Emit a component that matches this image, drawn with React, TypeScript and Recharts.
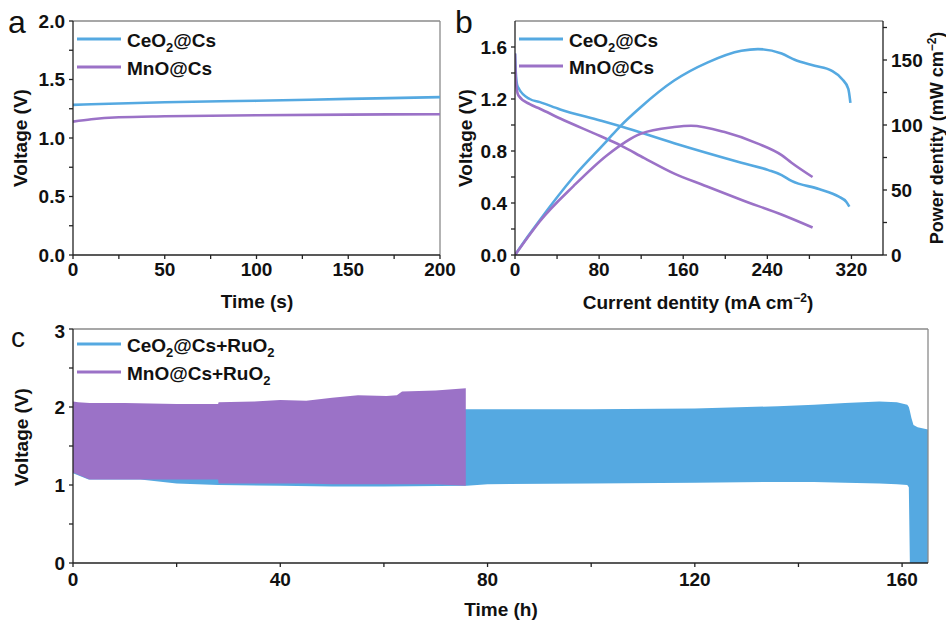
import { LineChart, ComposedChart, Line, Area, XAxis, YAxis, ReferenceLine } from 'recharts'

const BLUE = '#55a9e1'
const PURPLE = '#9b72c7'
const AXIS = '#222'
const FRAME = '#8a8a8a'
const FONT = "'Liberation Sans', Arial, sans-serif"

// (a) open-circuit voltage vs time
const timeA = [0, 10, 25, 50, 100, 150, 200]
const ceoA = [1.283, 1.288, 1.295, 1.306, 1.318, 1.334, 1.349]
const mnoA = [1.14, 1.16, 1.177, 1.186, 1.195, 1.2, 1.203]
const xTicksA = [0, 25, 50, 75, 100, 125, 150, 175, 200]
const yTicksA = [0, 0.25, 0.5, 0.75, 1, 1.25, 1.5, 1.75, 2]

// (b) polarization (left axis) and power density (right axis)
const ceVx = [0, 0.8, 2, 4, 14, 23.7, 43, 81, 100.4, 151.4, 215.3, 241, 253.6, 263, 289, 308, 315, 318]
const ceVy = [1.55, 1.4, 1.31, 1.275, 1.2, 1.176, 1.12, 1.035, 0.99, 0.86, 0.71, 0.653, 0.615, 0.57, 0.508, 0.449, 0.41, 0.372]
const mnVx = [0, 0.8, 2, 3.3, 14, 23.7, 43, 81, 100, 123, 151, 180, 215, 254, 283]
const mnVy = [1.55, 1.35, 1.26, 1.227, 1.16, 1.125, 1.05, 0.915, 0.845, 0.745, 0.628, 0.535, 0.425, 0.309, 0.211]
const cePx = [0, 12, 23.7, 55.6, 87.6, 100, 119.5, 151.4, 183.4, 215.3, 231, 253.6, 266, 285, 301, 311, 317, 319]
const cePy = [0, 14, 27, 60, 88, 99, 113.7, 134.2, 148.2, 157.1, 158.4, 155, 150.2, 145.6, 141.8, 135.4, 127.8, 117]
const mnPx = [0, 12, 23.7, 55.6, 87.6, 119.5, 151.4, 167.4, 199.4, 231, 253.6, 263, 283]
const mnPy = [0, 13.5, 26, 53, 76.8, 93.3, 98.4, 99.4, 94.6, 85.7, 76.8, 71, 60]
const xTicksB = [0, 40, 80, 120, 160, 200, 240, 280, 320]
const yTicksB = [0, 0.2, 0.4, 0.6, 0.8, 1, 1.2, 1.4, 1.6]
const pTicksB = [0, 25, 50, 75, 100, 125, 150, 175]

// (c) cycling bands: lower / upper voltage envelope
const ceT = [0, 3, 13, 20, 28, 40, 50, 60, 76, 80, 100, 120, 136, 143, 149, 155.6, 159, 161, 161.3, 161.5, 161.8, 162.2, 163, 165]
const ceLo = [1.15, 1.07, 1.07, 1.02, 1.0, 0.99, 0.98, 0.98, 0.99, 1.01, 1.02, 1.03, 1.04, 1.04, 1.03, 1.02, 1.01, 1.0, 0.97, 0, 0, 0, 0, 0]
const ceHi = [2.0, 1.97, 1.97, 1.97, 1.97, 1.97, 1.97, 1.97, 1.97, 1.97, 1.97, 1.98, 2.01, 2.03, 2.05, 2.07, 2.06, 2.03, 2.0, 1.95, 1.86, 1.77, 1.74, 1.71]
const mnT = [0, 1, 3.2, 10, 20, 28, 28.1, 35, 40, 45, 50, 55, 60.5, 62.5, 63.5, 70, 75.8]
const mnLo = [1.16, 1.13, 1.07, 1.07, 1.07, 1.07, 1.02, 1.02, 1.02, 1.02, 1.01, 1.01, 1.01, 1.01, 1.01, 1.01, 0.99]
const mnHi = [2.07, 2.06, 2.05, 2.05, 2.04, 2.04, 2.06, 2.07, 2.09, 2.08, 2.12, 2.15, 2.14, 2.15, 2.2, 2.21, 2.24]
const xTicksC = [0, 20, 40, 60, 80, 100, 120, 140, 160]
const yTicksC = [0, 0.5, 1, 1.5, 2, 2.5, 3]

const dataA = timeA.map((t, i) => ({ t, ceo: ceoA[i], mno: mnoA[i] }))
const zip = (xs: number[], ys: number[]) => xs.map((x, i) => ({ x, y: ys[i] }))
const band = (ts: number[], lo: number[], hi: number[]) => ts.map((t, i) => ({ t, range: [lo[i], hi[i]] }))

const major = (step: number, digits: number) => (v: number) =>
  Math.abs(v / step - Math.round(v / step)) < 1e-6 ? v.toFixed(digits) : ''

const tickStyle = { fill: '#111', fontSize: 19, fontWeight: 'bold', fontFamily: FONT }
const axisProps = { stroke: AXIS, strokeWidth: 1.3, tickSize: 4, tick: tickStyle, allowDataOverflow: true }

function Title({ x, y, rot, size = 19, children }: any) {
  return (
    <text transform={`translate(${x},${y})${rot ? ' rotate(-90)' : ''}`} textAnchor="middle"
      fontFamily={FONT} fontWeight="bold" fontSize={size} fill="#111">{children}</text>
  )
}

function Key({ x, y, color, children }: any) {
  return (
    <g>
      <line x1={x} x2={x + 44} y1={y} y2={y} stroke={color} strokeWidth={3} />
      <text x={x + 50} y={y + 7.5} fontFamily={FONT} fontWeight="bold" fontSize={19} fill="#111">{children}</text>
    </g>
  )
}

export default function App() {
  return (
    <div style={{ position: 'relative', width: 946, height: 620, background: '#fff', overflow: 'hidden' }}>
      <style>{'body{margin:0}'}</style>

      <div style={{ position: 'absolute', left: 0, top: 0 }}>
        <LineChart width={470} height={310} data={dataA} margin={{ top: 21, right: 30, bottom: 0, left: 0 }}>
          <XAxis dataKey="t" type="number" domain={[0, 200]} ticks={xTicksA} tickFormatter={major(50, 0)}
            height={55} tickMargin={4} {...axisProps} />
          <YAxis domain={[0, 2]} ticks={yTicksA} tickFormatter={major(0.5, 1)} width={73} tickMargin={4} {...axisProps} />
          <ReferenceLine y={2} stroke={FRAME} strokeWidth={1.3} />
          <ReferenceLine x={200} stroke={FRAME} strokeWidth={1.3} />
          <Line dataKey="ceo" type="monotone" stroke={BLUE} strokeWidth={2.6} dot={false} isAnimationActive={false} />
          <Line dataKey="mno" type="monotone" stroke={PURPLE} strokeWidth={2.6} dot={false} isAnimationActive={false} />
        </LineChart>
      </div>

      <div style={{ position: 'absolute', left: 442, top: 0 }}>
        <LineChart width={504} height={310} margin={{ top: 21, right: 0, bottom: 0, left: 0 }}>
          <XAxis dataKey="x" type="number" domain={[0, 350]} ticks={xTicksB} tickFormatter={major(80, 0)}
            height={55} tickMargin={4} {...axisProps} />
          <YAxis yAxisId="v" domain={[0, 1.8]} ticks={yTicksB} tickFormatter={major(0.4, 1)} width={73} tickMargin={4} {...axisProps} />
          <YAxis yAxisId="p" orientation="right" domain={[0, 180]} ticks={pTicksB} tickFormatter={major(50, 0)}
            width={63} tickMargin={4} {...axisProps} />
          <ReferenceLine yAxisId="v" y={1.8} stroke={FRAME} strokeWidth={1.3} />
          <Line yAxisId="v" data={zip(ceVx, ceVy)} dataKey="y" type="monotone" stroke={BLUE} strokeWidth={2.6} dot={false} isAnimationActive={false} />
          <Line yAxisId="v" data={zip(mnVx, mnVy)} dataKey="y" type="monotone" stroke={PURPLE} strokeWidth={2.6} dot={false} isAnimationActive={false} />
          <Line yAxisId="p" data={zip(cePx, cePy)} dataKey="y" type="monotone" stroke={BLUE} strokeWidth={2.6} dot={false} isAnimationActive={false} />
          <Line yAxisId="p" data={zip(mnPx, mnPy)} dataKey="y" type="monotone" stroke={PURPLE} strokeWidth={2.6} dot={false} isAnimationActive={false} />
        </LineChart>
      </div>

      <div style={{ position: 'absolute', left: 0, top: 320 }}>
        <ComposedChart width={946} height={300} margin={{ top: 9, right: 18, bottom: 0, left: 0 }}>
          <XAxis dataKey="t" type="number" domain={[0, 165]} ticks={xTicksC} tickFormatter={major(40, 0)}
            height={57} tickMargin={6} {...axisProps} />
          <YAxis domain={[0, 3]} ticks={yTicksC} tickFormatter={major(1, 0)} width={73} tickMargin={4} {...axisProps} />
          <Area data={band(ceT, ceLo, ceHi)} dataKey="range" type="linear" stroke="none" fill={BLUE} fillOpacity={1} isAnimationActive={false} />
          <Area data={band(mnT, mnLo, mnHi)} dataKey="range" type="linear" stroke="none" fill={PURPLE} fillOpacity={1} isAnimationActive={false} />
          <ReferenceLine y={3} stroke={FRAME} strokeWidth={1.3} />
          <ReferenceLine x={165} stroke={FRAME} strokeWidth={1.3} />
        </ComposedChart>
      </div>

      <svg width={946} height={620} style={{ position: 'absolute', left: 0, top: 0, pointerEvents: 'none' }}>
        <text x={8} y={33} fontFamily={FONT} fontSize={32} fill="#111">a</text>
        <text x={455} y={33} fontFamily={FONT} fontSize={32} fill="#111">b</text>
        <text x={11} y={347} fontFamily={FONT} fontSize={28} fill="#111">c</text>

        <Title x={26.5} y={138} rot>Voltage (V)</Title>
        <Title x={257} y={308}>Time (s)</Title>
        <Title x={472} y={138} rot>Voltage (V)</Title>
        <Title x={698} y={309}>Current dentity (mA cm<tspan dy={-7} fontSize={12}>−2</tspan><tspan dy={7}>)</tspan></Title>
        <Title x={943} y={138} rot size={18}>Power dentity (mW cm<tspan dy={-7} fontSize={12}>−2</tspan><tspan dy={7}>)</tspan></Title>
        <Title x={27.5} y={437} rot>Voltage (V)</Title>
        <Title x={501} y={616}>Time (h)</Title>

        <Key x={77} y={39} color={BLUE}>CeO<tspan dy={5} fontSize={13}>2</tspan><tspan dy={-5}>@Cs</tspan></Key>
        <Key x={77} y={67} color={PURPLE}>MnO@Cs</Key>
        <Key x={519} y={39} color={BLUE}>CeO<tspan dy={5} fontSize={13}>2</tspan><tspan dy={-5}>@Cs</tspan></Key>
        <Key x={519} y={66} color={PURPLE}>MnO@Cs</Key>
        <Key x={77} y={344} color={BLUE}>CeO<tspan dy={5} fontSize={13}>2</tspan><tspan dy={-5}>@Cs+RuO</tspan><tspan dy={5} fontSize={13}>2</tspan></Key>
        <Key x={77} y={372} color={PURPLE}>MnO@Cs+RuO<tspan dy={5} fontSize={13}>2</tspan></Key>
      </svg>
    </div>
  )
}
